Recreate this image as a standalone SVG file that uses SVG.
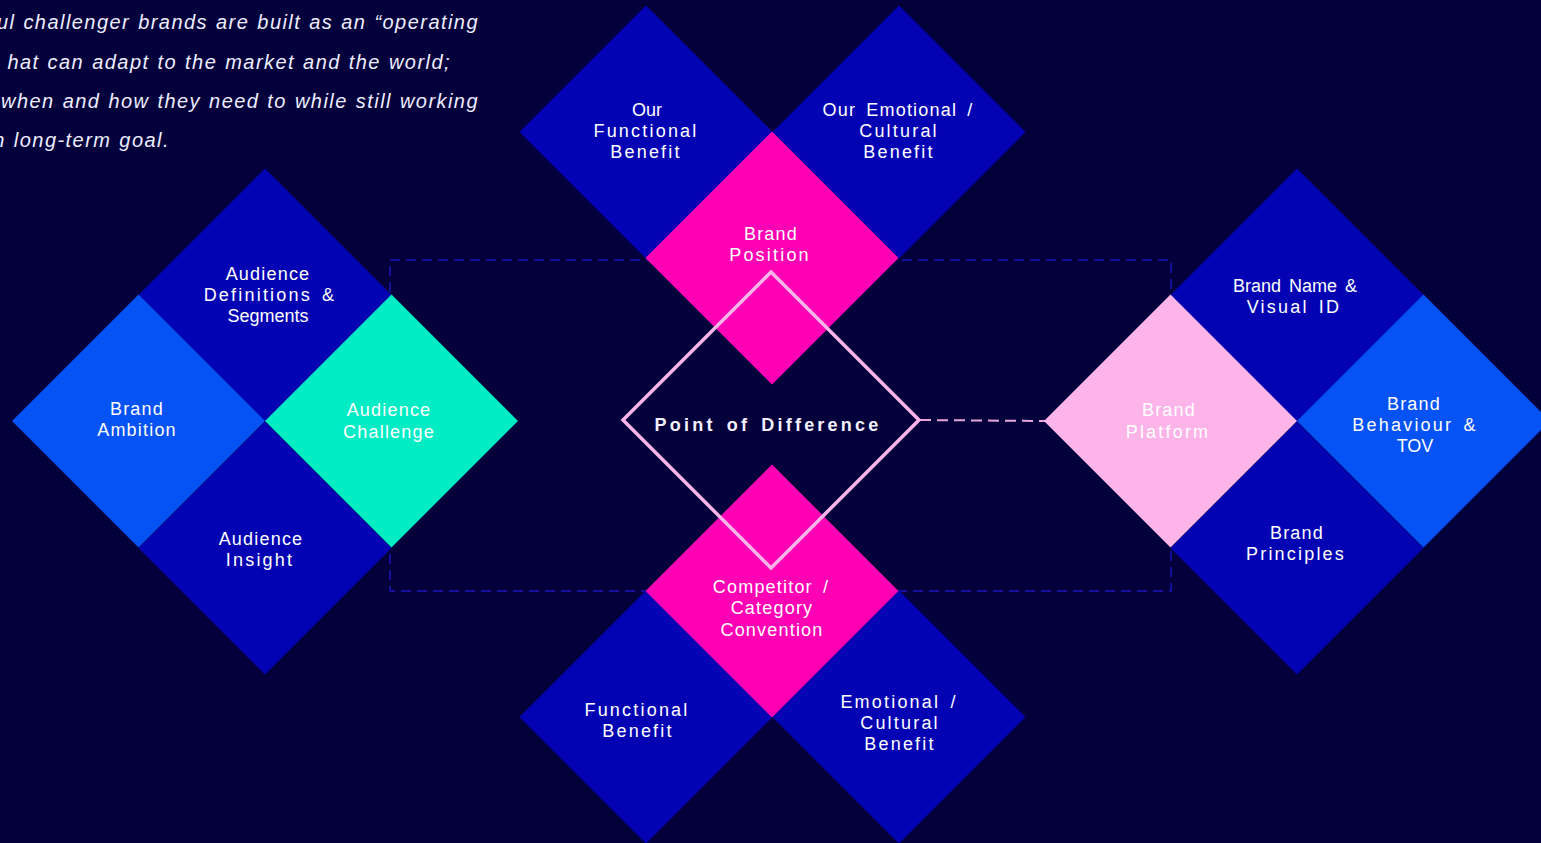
<svg xmlns="http://www.w3.org/2000/svg" width="1541" height="843" viewBox="0 0 1541 843">
  <style>
    .bg { fill: #03003c; }
    .navy { fill: #0303b4; }
    .blue { fill: #0552f5; }
    .teal { fill: #00ecc4; }
    .magenta { fill: #ff00b4; }
    .pink { fill: #fdb4e9; }
    .lbl { font-family: "Liberation Sans", Arial, sans-serif; font-size: 18px; fill: #ffffff; text-anchor: middle; letter-spacing: 1.2px; }
    .wide { letter-spacing: 2.2px; word-spacing: 3px; }
    .tight { letter-spacing: 0px; }
    .pod { font-family: "Liberation Sans", Arial, sans-serif; font-size: 18px; font-weight: bold; fill: #f4f0ff; text-anchor: middle; letter-spacing: 3.2px; word-spacing: 3px; }
    .intro { font-family: "Liberation Sans", Arial, sans-serif; font-size: 20px; font-style: italic; fill: #eeeeff; text-anchor: end; letter-spacing: 1.45px; word-spacing: 1px; }
    .frame { fill: none; stroke: #1a14b8; stroke-width: 1.5; stroke-dasharray: 10 6; }
    .link { fill: none; stroke: #e8a6dc; stroke-width: 2; stroke-dasharray: 11 6; }
    .outline { fill: none; stroke: #fdb4e9; stroke-width: 3.5; }
  </style>
  <defs>
    <polygon id="dia" points="0,-126.5 126.5,0 0,126.5 -126.5,0"/>
  </defs>

  <rect class="bg" x="0" y="0" width="1541" height="843"/>

  <!-- intro paragraph, running in from the left edge -->
  <g id="intro">
    <text class="intro" x="479" y="29">ul challenger brands are built as an “operating</text>
    <text class="intro" x="451" y="69">hat can adapt to the market and the world;</text>
    <text class="intro" x="479" y="108">when and how they need to while still working</text>
    <text class="intro" x="170" y="147">n long-term goal.</text>
  </g>

  <!-- connectors -->
  <g id="connectors">
    <rect class="frame" x="390" y="260" width="781" height="331"/>
    <line class="link" x1="920" y1="420" x2="1045" y2="421"/>
  </g>

  <!-- audience cluster -->
  <g id="audience-definitions">
    <use href="#dia" class="navy" x="265" y="295"/>
    <text class="lbl" x="268" y="280">Audience</text>
    <text class="lbl wide" x="270" y="301">Definitions &amp;</text>
    <text class="lbl tight" x="268" y="322">Segments</text>
  </g>
  <g id="audience-insight">
    <use href="#dia" class="navy" x="265" y="548"/>
    <text class="lbl" x="261" y="545">Audience</text>
    <text class="lbl wide" x="260" y="566">Insight</text>
  </g>
  <g id="brand-ambition">
    <use href="#dia" class="blue" x="138.5" y="421"/>
    <text class="lbl" x="137" y="415">Brand</text>
    <text class="lbl" x="137" y="436">Ambition</text>
  </g>
  <g id="audience-challenge">
    <use href="#dia" class="teal" x="391.5" y="421"/>
    <text class="lbl" x="389" y="416">Audience</text>
    <text class="lbl" x="389" y="438">Challenge</text>
  </g>

  <!-- positioning cluster (top) -->
  <g id="our-functional-benefit">
    <use href="#dia" class="navy" x="646" y="132"/>
    <text class="lbl tight" x="647" y="116">Our</text>
    <text class="lbl wide" x="646" y="137">Functional</text>
    <text class="lbl wide" x="646" y="158">Benefit</text>
  </g>
  <g id="our-emotional-benefit">
    <use href="#dia" class="navy" x="899" y="132"/>
    <text class="lbl" x="898" y="116" style="word-spacing:4px">Our Emotional /</text>
    <text class="lbl wide" x="899" y="137">Cultural</text>
    <text class="lbl wide" x="899" y="158">Benefit</text>
  </g>
  <g id="brand-position">
    <use href="#dia" class="magenta" x="772" y="258"/>
    <text class="lbl" x="771" y="240">Brand</text>
    <text class="lbl wide" x="770" y="261">Position</text>
  </g>

  <!-- competitor cluster (bottom) -->
  <g id="functional-benefit">
    <use href="#dia" class="navy" x="646" y="717"/>
    <text class="lbl wide" x="637" y="716">Functional</text>
    <text class="lbl wide" x="638" y="737">Benefit</text>
  </g>
  <g id="emotional-benefit">
    <use href="#dia" class="navy" x="899" y="717"/>
    <text class="lbl wide" x="899" y="708">Emotional /</text>
    <text class="lbl wide" x="900" y="729">Cultural</text>
    <text class="lbl wide" x="900" y="750">Benefit</text>
  </g>
  <g id="competitor-convention">
    <use href="#dia" class="magenta" x="772" y="591"/>
    <text class="lbl" x="771" y="593" style="word-spacing:4px">Competitor /</text>
    <text class="lbl" x="772" y="614">Category</text>
    <text class="lbl" x="772" y="636">Convention</text>
  </g>

  <!-- point of difference -->
  <g id="point-of-difference">
    <polygon class="outline" points="771,272 919,420 771,568 623,420"/>
    <text class="pod" x="768" y="431">Point of Difference</text>
  </g>

  <!-- brand cluster (right) -->
  <g id="brand-name">
    <use href="#dia" class="navy" x="1297" y="295"/>
    <text class="lbl tight" x="1295" y="292" style="word-spacing:3px">Brand Name &amp;</text>
    <text class="lbl wide" x="1294" y="313">Visual ID</text>
  </g>
  <g id="brand-principles">
    <use href="#dia" class="navy" x="1297" y="548"/>
    <text class="lbl" x="1297" y="539">Brand</text>
    <text class="lbl wide" x="1296" y="560">Principles</text>
  </g>
  <g id="brand-behaviour">
    <use href="#dia" class="blue" x="1423.5" y="421"/>
    <text class="lbl" x="1414" y="410">Brand</text>
    <text class="lbl wide" x="1415" y="431">Behaviour &amp;</text>
    <text class="lbl tight" x="1415" y="452">TOV</text>
  </g>
  <g id="brand-platform">
    <use href="#dia" class="pink" x="1170.5" y="421"/>
    <text class="lbl" x="1169" y="416">Brand</text>
    <text class="lbl wide" x="1168" y="438">Platform</text>
  </g>
</svg>
